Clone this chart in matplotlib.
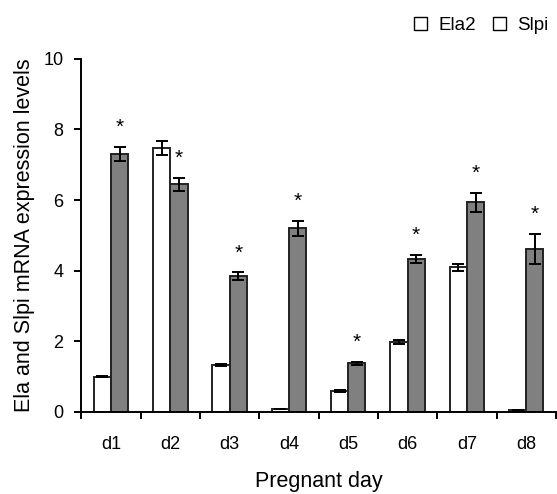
import matplotlib
matplotlib.use("Agg")
import matplotlib.pyplot as plt
from matplotlib.patches import Patch
import numpy as np

plt.rcParams['font.family'] = ['Liberation Sans', 'DejaVu Sans']

days = ['d1', 'd2', 'd3', 'd4', 'd5', 'd6', 'd7', 'd8']
ela2 = [1.00, 7.47, 1.32, 0.08, 0.60, 1.98, 4.10, 0.07]
ela2_err = [0.02, 0.20, 0.03, 0.0, 0.02, 0.05, 0.10, 0.0]
slpi = [7.30, 6.45, 3.85, 5.20, 1.38, 4.33, 5.94, 4.62]
slpi_err = [0.20, 0.18, 0.10, 0.22, 0.04, 0.12, 0.27, 0.42]
signif = [True] * 8

x = np.arange(1, len(days) + 1)
w = 0.29

fig = plt.figure(figsize=(5.57, 4.94), dpi=100)
ax = fig.add_axes([0.146, 0.166, 0.852, 0.715])

err_kw = dict(ecolor='black', capsize=4.5, elinewidth=1.4, capthick=1.4)
ax.bar(x - w / 2, ela2, w, yerr=ela2_err, color='white', edgecolor='#222222',
       linewidth=1.4, error_kw=err_kw, label='Ela2')
ax.bar(x + w / 2, slpi, w, yerr=slpi_err, color='#808080', edgecolor='#222222',
       linewidth=1.4, error_kw=err_kw, label='Slpi')

# significance stars above the Slpi bars
for xi, v, e, s in zip(x, slpi, slpi_err, signif):
    if s:
        ax.text(xi + w / 2, v + e + 0.28, '*', ha='center', va='bottom', fontsize=15)

ax.set_xlim(0.5, 8.5)
ax.set_ylim(0, 10)
ax.set_yticks([0, 2, 4, 6, 8, 10])
ax.set_xticks(x)
ax.set_xticklabels(days)
ax.set_xticks(np.arange(0.5, 9, 1), minor=True)
ax.tick_params(axis='x', which='major', length=0, pad=17, labelsize=13)
ax.tick_params(axis='x', which='minor', length=5, width=1.4, direction='out')
ax.tick_params(axis='y', length=5, width=1.4, labelsize=13, pad=8)
for side in ['top', 'right']:
    ax.spines[side].set_visible(False)
for side in ['left', 'bottom']:
    ax.spines[side].set_linewidth(1.4)

ax.set_ylabel('Ela and Slpi mRNA expression levels', fontsize=15.5, labelpad=6)
ax.set_xlabel('Pregnant day', fontsize=15.5, labelpad=13)

handles = [Patch(facecolor='white', edgecolor='black', linewidth=1),
           Patch(facecolor='white', edgecolor='black', linewidth=1)]
fig.legend(handles, ['Ela2', 'Slpi'], loc='upper right', bbox_to_anchor=(1.015, 1.0),
           ncol=2, frameon=False, fontsize=13.5, handlelength=0.7, handleheight=0.7,
           handletextpad=0.6, columnspacing=0.9)

fig.savefig('out.png', dpi=100)
